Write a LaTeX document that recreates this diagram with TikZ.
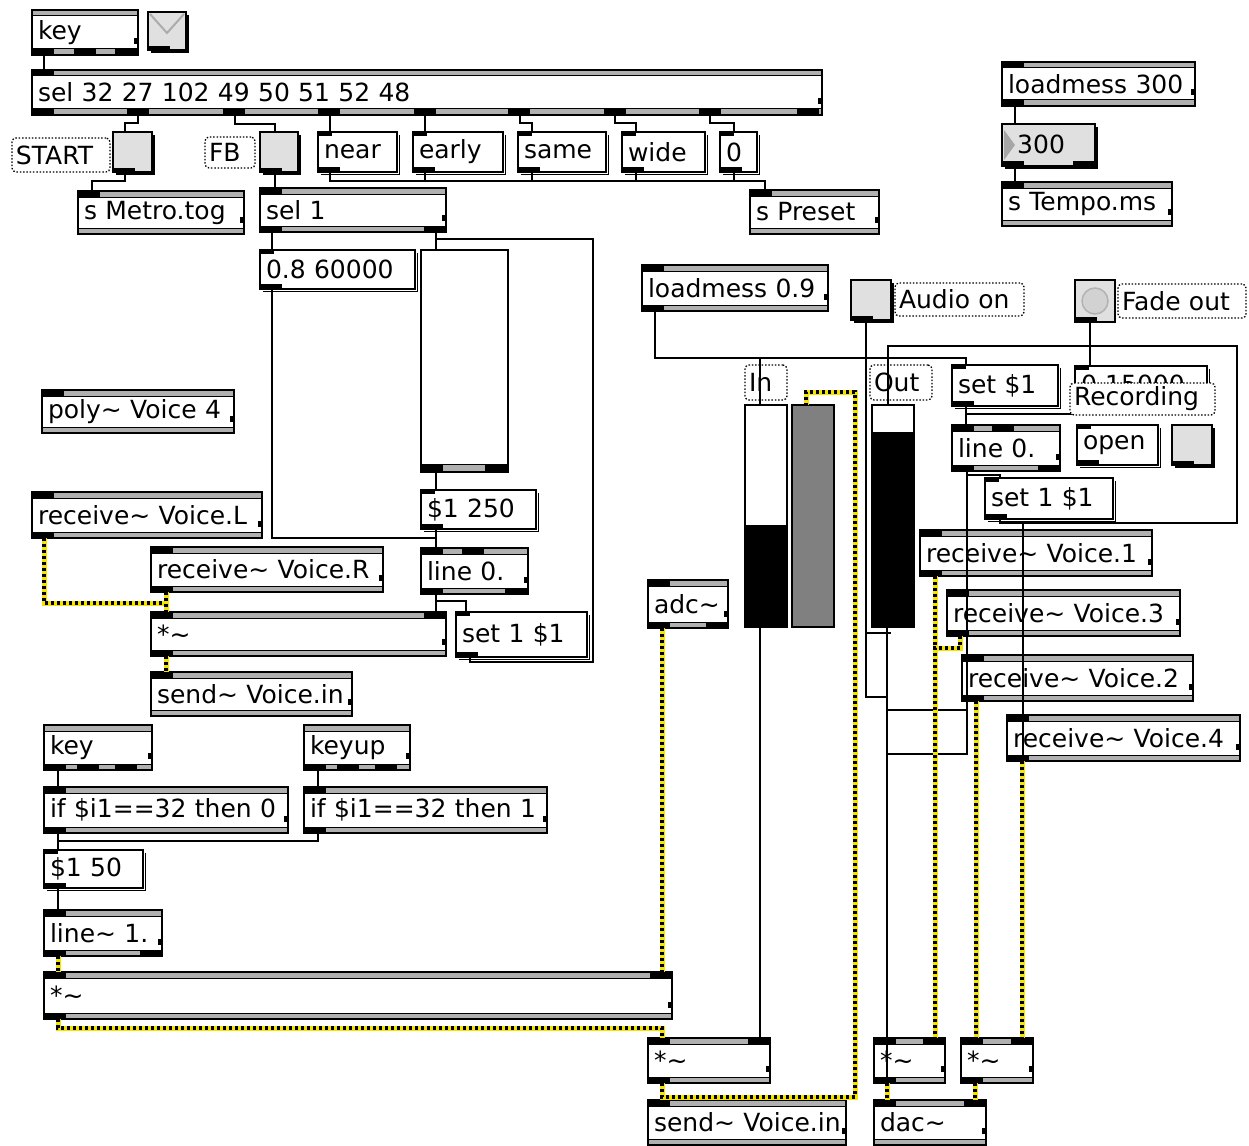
\documentclass[tikz,border=0pt]{standalone}
\usepackage{fontspec}
\setmainfont{DejaVu Sans}
\definecolor{tg}{HTML}{E0E0E0}
\definecolor{band}{HTML}{B0B0B0}
\definecolor{mgray}{HTML}{808080}
\definecolor{sigy}{HTML}{F5E400}
\newcommand\mtil{\textasciitilde}
\tikzset{
  boxbase/.style={draw=black,line width=1.5pt,fill=white,inner xsep=6pt,inner ysep=0pt,outer sep=0pt,font=\fontsize{25}{28}\selectfont,align=left},
  cmtbox/.style={draw=black,dash pattern=on 1.5pt off 1.8pt,line width=1.3pt,rounded corners=4pt,inner xsep=4pt,inner ysep=0pt,outer sep=0pt,font=\fontsize{25}{28}\selectfont,align=left},
  plainbox/.style={draw=black,line width=1.5pt,inner sep=0pt,outer sep=0pt},
  ctl/.style={line width=1.5pt,black},
  sigbase/.style={line width=5pt,sigy},
  sigdash/.style={line width=4pt,black,dash pattern=on 3pt off 3pt},
}
\newcommand\sigwire[1]{\draw[sigbase] #1; \draw[sigdash] #1;}
% object box: name x1 y1 x2 y2 text inlets outlets
\newcommand\mobj[8]{%
  \pgfmathsetmacro\bw{#4-#2}\pgfmathsetmacro\bh{#5-#3}\pgfmathsetmacro\tw{#4-#2-12}%
  \node[boxbase,anchor=north west,minimum width=\bw pt,minimum height=\bh pt,text width=\tw pt] (#1) at (#2,#3) {\mbox{#6}};
  \fill[band] (#2,#3) rectangle (#4,#3+6);
  \fill[band] (#2,#5-6) rectangle (#4,#5);
  \draw[line width=1pt] (#2,#3+6) -- (#4,#3+6) (#2,#5-6) -- (#4,#5-6);
  \draw[line width=1.5pt] (#2,#3) rectangle (#4,#5);
  \if\relax\detokenize{#7}\relax\else\foreach \tx in {#7} {\fill (\tx,#3) rectangle ++(22,6.5);}\fi
  \if\relax\detokenize{#8}\relax\else\foreach \tx in {#8} {\fill (\tx,#5-6.5) rectangle ++(22,6.5);}\fi
  \fill (#4-4,#5-17) rectangle (#4-1,#5-11);
}
% message box: name x1 y1 x2 y2 text
\newcommand\mmsg[6]{%
  \pgfmathsetmacro\bw{#4-#2}\pgfmathsetmacro\bh{#5-#3}\pgfmathsetmacro\tw{#4-#2-12}%
  \draw[line width=1.5pt] (#4+2.5,#3+3) -- (#4+2.5,#5+2.5) -- (#2+3,#5+2.5);
  \node[boxbase,anchor=north west,minimum width=\bw pt,minimum height=\bh pt,text width=\tw pt] (#1) at (#2,#3) {\mbox{#6}};
  \fill (#2,#3) rectangle ++(14,3.5);
  \fill (#2,#5-5) rectangle ++(22,5);
}
% toggle: name x1 y1 x2 y2
\newcommand\mtog[5]{%
  \pgfmathsetmacro\bw{#4-#2}\pgfmathsetmacro\bh{#5-#3}%
  \draw[line width=1.5pt] (#4+2,#3+3) -- (#4+2,#5+2) -- (#2+3,#5+2);
  \node[plainbox,fill=tg,anchor=north west,minimum width=\bw pt,minimum height=\bh pt] (#1) at (#2,#3) {};
  \fill (#2,#5-4) rectangle ++(22,4.5);
}
% comment: name x1 y1 x2 y2 text
\newcommand\mcmt[6]{%
  \pgfmathsetmacro\bw{#4-#2}\pgfmathsetmacro\bh{#5-#3}\pgfmathsetmacro\tw{#4-#2-8}%
  \node[cmtbox,anchor=north west,minimum width=\bw pt,minimum height=\bh pt,text width=\tw pt] (#1) at (#2,#3) {\mbox{#6}};
}
\begin{document}
\begin{tikzpicture}[x=1pt,y=-1pt]
\useasboundingbox (0,0) rectangle (1249,1145);
\fill[white] (0,0) rectangle (1249,1145);

% ---------------- top row
\mobj{key1}{32}{10}{138}{55}{key}{}{32,74,115}
\mtog{tgA}{148}{12}{186}{50}
\draw[gray!65,line width=2pt] (150,14) -- (167,33) -- (184,14);
\mobj{sel}{32}{70}{822}{115}{sel 32 27 102 49 50 51 52 48}{32}{32,127,223,318,414,508,604,699,797}
\mcmt{cSTART}{12}{138}{110}{172}{START}
\mtog{tgS}{113}{132}{152}{172}
\mcmt{cFB}{205}{137}{255}{168}{FB}
\mtog{tgF}{260}{132}{298}{172}
\mmsg{mNear}{318}{132}{397}{172}{near}
\mmsg{mEarly}{413}{132}{503}{172}{early}
\mmsg{mSame}{518}{132}{606}{172}{same}
\mmsg{mWide}{622}{132}{705}{172}{wide}
\mmsg{mZero}{720}{132}{757}{172}{0}
\mobj{sMetro}{78}{191}{244}{234}{s Metro.tog}{78}{}
\mobj{sel1}{260}{188}{446}{232}{sel 1}{260}{260,424}
\mobj{sPreset}{750}{190}{879}{234}{s Preset}{750}{}
\mobj{lm300}{1002}{62}{1195}{106}{loadmess 300}{1002}{1002}
% number box
\draw[line width=1.5pt] (1097,127) -- (1097,168) -- (1005,168);
\node[plainbox,fill=tg,anchor=north west,minimum width=93pt,minimum height=42pt] (num300) at (1002,124) {};
\fill[gray!70] (1004,130) -- (1015,145) -- (1004,160) -- cycle;
\node[anchor=west,inner sep=0pt,font=\fontsize{25}{28}\selectfont] (num300t) at (1017,144) {300};
\fill (1002,161) rectangle ++(22,5);
\fill (1073,161) rectangle ++(22,5);
\mobj{sTempo}{1002}{182}{1172}{226}{s Tempo.ms}{1002}{}

% ---------------- middle left
\mmsg{m0860}{260}{250}{415}{289}{0.8 60000}
\node[plainbox,fill=white,anchor=north west,minimum width=87pt,minimum height=222pt] (sld) at (421,250) {};
\fill[band] (421,464) rectangle (508,472);
\draw[line width=1pt] (421,464) -- (508,464);
\fill (421,464) rectangle ++(22,8);
\fill (485,464) rectangle ++(23,8);
\draw[line width=1.5pt] (421,250) rectangle (508,472);
\mobj{poly}{42}{390}{234}{433}{poly\mtil{} Voice 4}{42}{}
\mobj{rvL}{32}{492}{262}{538}{receive\mtil{} Voice.L}{32}{32}
\mobj{rvR}{151}{547}{383}{592}{receive\mtil{} Voice.R}{151}{151}
\mmsg{m1250}{421}{490}{536}{529}{\$1 250}
\mobj{lineL}{421}{548}{528}{594}{line 0.}{421,462}{421,505}
\mobj{mulT}{151}{612}{446}{656}{*\mtil}{151,424}{151}
\mmsg{set1L}{456}{612}{587}{657}{set 1 \$1}
\mobj{sendT}{151}{672}{352}{716}{send\mtil{} Voice.in}{151}{}

% ---------------- bottom left
\mobj{key2}{44}{725}{152}{770}{key}{}{44,77,115}
\mobj{keyup}{304}{725}{410}{770}{keyup}{}{304,337,375}
\mobj{if0}{44}{787}{288}{833}{if \$i1==32 then 0}{44}{44}
\mobj{if1}{304}{787}{547}{833}{if \$i1==32 then 1}{304}{304}
\mmsg{m150}{44}{850}{143}{888}{\$1 50}
\mobj{lineS}{44}{910}{162}{956}{line\mtil{} 1.}{44}{44,140}
\mobj{mulBig}{44}{972}{672}{1019}{*\mtil}{44,650}{44}

% ---------------- right side
\mobj{lm09}{642}{265}{828}{311}{loadmess 0.9}{642}{642}
\mtog{tgAud}{851}{280}{891}{320}
\mcmt{cAud}{895}{283}{1024}{316}{Audio on}
\node[plainbox,line width=2.5pt,fill=tg,anchor=north west,minimum width=40pt,minimum height=42pt] (btnF) at (1075,280) {};
\draw[gray!60,fill=gray!35,line width=1.5pt] (1095,301) circle (13);
\fill (1075,317) rectangle ++(22,5);
\mcmt{cFade}{1118}{284}{1246}{318}{Fade out}
\mcmt{cIn}{745}{365}{787}{400}{In}
\mcmt{cOut}{870}{365}{932}{400}{Out}
\mmsg{mSetD}{952}{365}{1058}{406}{set \$1}
\mmsg{m015}{1075}{366}{1207}{408}{\raisebox{6pt}{0 15000}}
\mobj{lineR}{952}{425}{1060}{471}{line 0.}{952,992}{952,1038}
\mmsg{mOpen}{1077}{425}{1158}{465}{open}
\mtog{tgRec}{1172}{425}{1212}{465}
\mmsg{set1R}{985}{478}{1113}{519}{set 1 \$1}
% meters
\node[plainbox,fill=white,anchor=north west,minimum width=42pt,minimum height=222pt] (mtrIn) at (745,405) {};
\fill (745,525) rectangle (787,627);
\node[plainbox,fill=mgray,anchor=north west,minimum width=42pt,minimum height=222pt] (mtrG) at (792,405) {};
\node[plainbox,fill=white,anchor=north west,minimum width=42pt,minimum height=222pt] (mtrOut) at (872,405) {};
\fill (872,432) rectangle (914,627);
\mobj{rv1}{920}{530}{1152}{576}{receive\mtil{} Voice.1}{920}{920}
\mobj{rv3}{947}{590}{1180}{636}{receive\mtil{} Voice.3}{947}{947}
\mobj{rv2}{962}{655}{1193}{701}{receive\mtil{} Voice.2}{962}{962}
\mobj{rv4}{1007}{715}{1240}{761}{receive\mtil{} Voice.4}{1007}{1007}
\mobj{adc}{648}{580}{728}{628}{adc\mtil}{648}{648,706}
\mobj{mulC}{648}{1038}{770}{1083}{*\mtil}{648,748}{648}
\mobj{sendB}{648}{1100}{846}{1145}{send\mtil{} Voice.in}{648}{}
\mobj{mulA}{874}{1038}{945}{1083}{*\mtil}{874,923}{874}
\mobj{mulB}{961}{1038}{1033}{1083}{*\mtil}{961,1011}{961}
\mobj{dac}{874}{1100}{986}{1145}{dac\mtil}{874,964}{}

% ---------------- control connectors
\draw[ctl] (key1.south -| 44,0) -- (sel.north -| 44,0);
\draw[ctl] (sel.south -| 138,0) -- (138,123) -- (125,123) -- (tgS.north -| 125,0);
\draw[ctl] (tgS.south -| 125,0) -- (125,181) -- (92,181) -- (sMetro.north -| 92,0);
\draw[ctl] (sel.south -| 235,0) -- (235,124) -- (275,124) -- (tgF.north -| 275,0);
\draw[ctl] (tgF.south -| 275,0) -- (sel1.north -| 275,0);
\draw[ctl] (sel.south -| 330,0) -- (mNear.north -| 330,0);
\draw[ctl] (sel.south -| 425,0) -- (mEarly.north -| 425,0);
\draw[ctl] (sel.south -| 520,0) -- (520,123) -- (532,123) -- (mSame.north -| 532,0);
\draw[ctl] (sel.south -| 615,0) -- (615,123) -- (636,123) -- (mWide.north -| 636,0);
\draw[ctl] (sel.south -| 710,0) -- (710,123) -- (734,123) -- (mZero.north -| 734,0);
\foreach \n/\x in {mNear/330,mEarly/425,mSame/532,mWide/636,mZero/734}
  \draw[ctl] (\n.south -| \x,0) -- (\x,181) -| (sPreset.north -| 765,0);
\draw[ctl] (sel1.south -| 272,0) -- (m0860.north -| 272,0);
\draw[ctl] (sel1.south -| 436,0) -- (sld.north -| 436,0);
\draw[ctl] (m0860.south -| 272,0) -- (272,538) -- (436,538) -- (lineL.north -| 436,0);
\draw[ctl] (sld.south -| 436,0) -- (m1250.north -| 436,0);
\draw[ctl] (m1250.south -| 436,0) -- (lineL.north -| 436,0);
\draw[ctl] (lineL.south -| 436,0) -- (mulT.north -| 436,0);
\draw[ctl] (lineL.south -| 436,0) -- (436,601) -- (466,601) -- (set1L.north -| 466,0);
\draw[ctl] (set1L.south -| 470,0) -- (470,662) -- (593,662) -- (593,239) -- (436,239) -- (sld.north -| 436,0);
\draw[ctl] (key2.south -| 58,0) -- (if0.north -| 58,0);
\draw[ctl] (keyup.south -| 318,0) -- (if1.north -| 318,0);
\draw[ctl] (if0.south -| 58,0) -- (m150.north -| 58,0);
\draw[ctl] (if1.south -| 318,0) -- (318,841) -- (58,841) -- (m150.north -| 58,0);
\draw[ctl] (m150.south -| 58,0) -- (lineS.north -| 58,0);
\draw[ctl] (lm300.south -| 1015,0) -- (num300.north -| 1015,0);
\draw[ctl] (num300.south -| 1015,0) -- (sTempo.north -| 1015,0);
\draw[ctl] (lm09.south -| 655,0) -- (655,358) -- (966,358) -- (mSetD.north -| 966,0);
\draw[ctl] (lm09.south -| 655,0) -- (655,358) -- (760,358) -- (mtrIn.north -| 760,0);
\draw[ctl] (tgAud.south -| 866,0) -- (866,697) -- (887,697) -- (dac.north -| 887,0);
\draw[ctl] (tgAud.south -| 866,0) -- (866,633) -- (891,633);
\draw[ctl] (mtrOut.south -| 887,0) -- (mulA.north -| 887,0);
\draw[ctl] (lineR.south -| 967,0) -- (967,754) -- (887,754) -- (mulA.north -| 887,0);
\draw[ctl] (lineR.south -| 967,0) -- (967,710) -- (887,710);
\draw[ctl] (lineR.south -| 967,0) -- (967,475) -- (1000,475) -- (set1R.north -| 1000,0);
\draw[ctl] (mSetD.south -| 966,0) -- (lineR.north -| 966,0);
\draw[ctl] (m015.south -| 1090,0) -- (1090,414) -- (966,414) -- (lineR.north -| 966,0);
\draw[ctl] (btnF.south -| 1090,0) -- (m015.north -| 1090,0);
\draw[ctl] (set1R.south -| 1000,0) -- (1000,523) -- (1237,523) -- (1237,346) -- (888,346) -- (mtrOut.north -| 888,0);
\draw[ctl] (set1R.south -| 1000,0) -- (1000,523) -- (1023,523) -- (mulB.north -| 1023,0);
\draw[ctl] (mtrIn.south -| 760,0) -- (mulC.north -| 760,0);

% ---------------- signal connectors
\sigwire{(rvL.south -| 44,0) -- (44,603) -- (166,603) -- (mulT.north -| 166,0)}
\sigwire{(rvR.south -| 166,0) -- (mulT.north -| 166,0)}
\sigwire{(mulT.south -| 166,0) -- (sendT.north -| 166,0)}
\sigwire{(lineS.south -| 58,0) -- (mulBig.north -| 58,0)}
\sigwire{(adc.south -| 662,0) -- (mulBig.north -| 662,0)}
\sigwire{(mulBig.south -| 58,0) -- (58,1028) -- (662,1028) -- (mulC.north -| 662,0)}
\sigwire{(mulC.south -| 662,0) -- (sendB.north -| 662,0)}
\sigwire{(mulC.south -| 662,0) -- (662,1097) -- (855,1097) -- (855,392) -- (806,392) -- (mtrG.north -| 806,0)}
\sigwire{(rv1.south -| 935,0) -- (mulA.north -| 935,0)}
\sigwire{(rv3.south -| 960,0) -- (960,648) -- (935,648) -- (mulA.north -| 935,0)}
\sigwire{(rv2.south -| 976,0) -- (mulB.north -| 976,0)}
\sigwire{(rv4.south -| 1022,0) -- (mulB.north -| 1022,0)}
\sigwire{(mulA.south -| 887,0) -- (dac.north -| 887,0)}
\sigwire{(mulB.south -| 975,0) -- (dac.north -| 975,0)}

% comment over the message box
\node[cmtbox,fill=white,anchor=north west,minimum width=145pt,minimum height=32pt,text width=137pt] (cRec) at (1070,383) {\mbox{Recording}};
\end{tikzpicture}
\end{document}
